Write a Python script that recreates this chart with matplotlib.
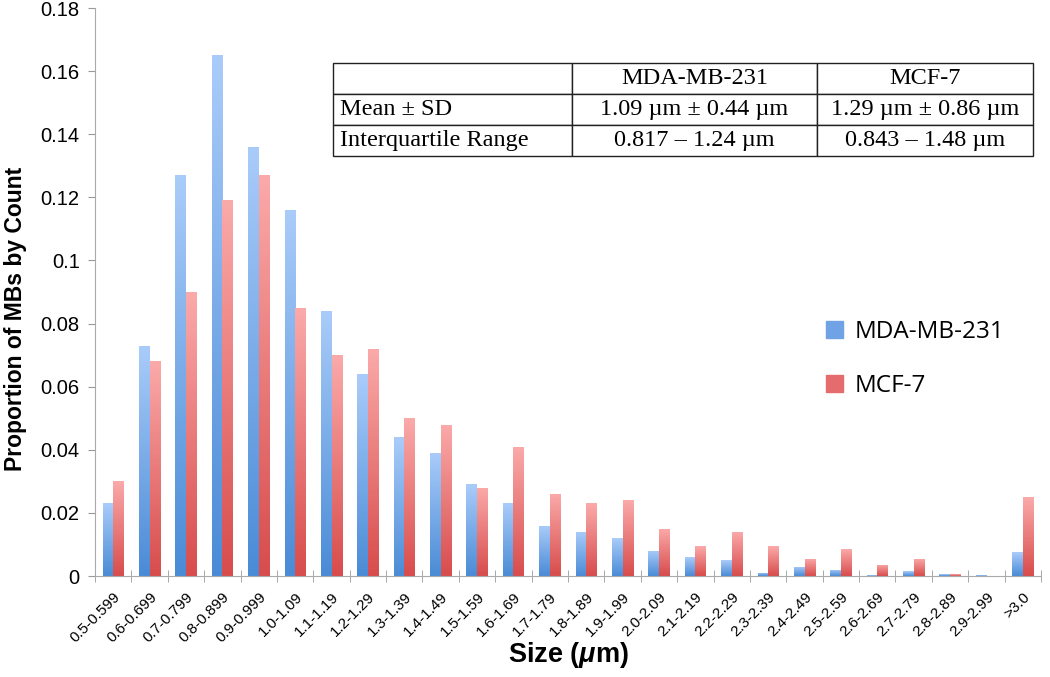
import numpy as np
import matplotlib
matplotlib.use('Agg')
import matplotlib.pyplot as plt
import matplotlib.transforms as mtransforms
from matplotlib.colors import LinearSegmentedColormap

categories = ['0.5-0.599', '0.6-0.699', '0.7-0.799', '0.8-0.899', '0.9-0.999',
              '1.0-1.09', '1.1-1.19', '1.2-1.29', '1.3-1.39', '1.4-1.49',
              '1.5-1.59', '1.6-1.69', '1.7-1.79', '1.8-1.89', '1.9-1.99',
              '2.0-2.09', '2.1-2.19', '2.2-2.29', '2.3-2.39', '2.4-2.49',
              '2.5-2.59', '2.6-2.69', '2.7-2.79', '2.8-2.89', '2.9-2.99', '>3.0']
mda = [0.023, 0.073, 0.127, 0.165, 0.136, 0.116, 0.084, 0.064, 0.044, 0.039,
       0.029, 0.023, 0.016, 0.014, 0.012, 0.008, 0.006, 0.005, 0.001, 0.003,
       0.002, 0.0003, 0.0015, 0.0005, 0.0003, 0.0075]
mcf = [0.030, 0.068, 0.090, 0.119, 0.127, 0.085, 0.070, 0.072, 0.050, 0.048,
       0.028, 0.041, 0.026, 0.023, 0.024, 0.015, 0.0095, 0.014, 0.0095, 0.0055,
       0.0085, 0.0035, 0.0055, 0.0006, 0.0, 0.025]

table_cols = ['', 'MDA-MB-231', 'MCF-7']
table_rows = [['Mean \u00b1 SD', '1.09 \u00b5m \u00b1 0.44 \u00b5m', '1.29 \u00b5m \u00b1 0.86 \u00b5m'],
              ['Interquartile Range', '0.817 \u2013 1.24 \u00b5m', '0.843 \u2013 1.48 \u00b5m']]

plt.rcParams['font.family'] = ['Liberation Sans', 'DejaVu Sans']
plt.rcParams['mathtext.fontset'] = 'custom'
plt.rcParams['mathtext.it'] = 'Liberation Sans:italic:bold'
plt.rcParams['mathtext.rm'] = 'Liberation Sans:bold'

blue_cmap = LinearSegmentedColormap.from_list('b', ['#4a8bd6', '#aaccfa'])
red_cmap = LinearSegmentedColormap.from_list('r', ['#d84c4c', '#fbaaaa'])

fig = plt.figure(figsize=(10.5, 6.77), dpi=100)
ax = fig.add_axes([95 / 1050, 1 - 576 / 677, 946 / 1050, 568 / 677])

x = np.arange(len(categories))
w = 0.29
grad = np.linspace(0, 1, 256).reshape(-1, 1)


def gradient_bars(xpos, vals, cmap, label):
    bars = ax.bar(xpos, vals, w, color=cmap(0.5), label=label, zorder=2)
    for b in bars:
        b.set_alpha(0)
        h = b.get_height()
        if h <= 0:
            continue
        x0 = b.get_x()
        im = ax.imshow(grad, cmap=cmap, aspect='auto', origin='lower',
                       extent=[x0, x0 + b.get_width(), 0, h], zorder=2)
        im.set_clip_path(b)
    return bars


gradient_bars(x - w / 2, mda, blue_cmap, 'MDA-MB-231')
gradient_bars(x + w / 2, mcf, red_cmap, 'MCF-7')

ax.set_xlim(-0.5, len(categories) - 0.5)
ax.set_ylim(0, 0.18)
ax.set_yticks(np.arange(0, 0.181, 0.02))
ax.set_yticklabels(['0', '0.02', '0.04', '0.06', '0.08', '0.1', '0.12', '0.14', '0.16', '0.18'],
                   fontsize=14.5)
ax.set_xticks(x)
ax.set_xticklabels(categories, rotation=45, ha='right', rotation_mode='anchor', fontsize=11)
shift = mtransforms.ScaledTranslation(5 / 100, 0, fig.dpi_scale_trans)
for lbl in ax.get_xticklabels():
    lbl.set_transform(lbl.get_transform() + shift)
ax.set_xticks(np.arange(-0.5, len(categories)), minor=True)
ax.tick_params(axis='x', which='major', length=0, pad=10)
ax.tick_params(axis='x', which='minor', length=8, direction='inout', color='#999999')
ax.tick_params(axis='y', length=5, direction='out', color='#999999', pad=6)
for s in ['top', 'right']:
    ax.spines[s].set_visible(False)
for s in ['left', 'bottom']:
    ax.spines[s].set_color('#aaaaaa')
ax.set_ylabel('Proportion of MBs by Count', fontsize=16.5, fontweight='bold', labelpad=12)
ax.yaxis.set_label_coords(-0.072, (576 - 319) / 568)
fig.text(568 / 1050, 1 - 655 / 677, r'Size ($\mathit{\mu}$m)', fontsize=19.5,
         fontweight='bold', ha='center', va='center')

handles = [plt.Rectangle((0, 0), 1, 1, color='#6fa3e6'), plt.Rectangle((0, 0), 1, 1, color='#e46c6c')]
ax.legend(handles, ['MDA-MB-231', 'MCF-7'], loc='center left', bbox_to_anchor=(0.75, 0.382),
          frameon=False, handlelength=0.7, handleheight=0.7,
          labelspacing=1.25, handletextpad=0.45,
          prop={'family': ['Open Sans', 'DejaVu Sans'], 'size': 17.5})

tax = fig.add_axes([333 / 1050, 1 - 156 / 677, 700 / 1050, 93 / 677])
tax.axis('off')
tbl = tax.table(cellText=table_rows, colLabels=table_cols, bbox=[0, 0, 1, 1],
                colWidths=[239, 245, 216])
tbl.auto_set_font_size(False)
for (r, c), cell in tbl.get_celld().items():
    cell.set_linewidth(1.0)
    cell.set_edgecolor('#222222')
    cell.get_text().set_fontfamily(['Liberation Serif', 'DejaVu Serif'])
    cell.get_text().set_fontsize(17.5)
    if c == 0:
        cell.get_text().set_ha('left')
        cell.PAD = 0.03
    else:
        cell.get_text().set_ha('center')

fig.savefig('out.png', dpi=100)
